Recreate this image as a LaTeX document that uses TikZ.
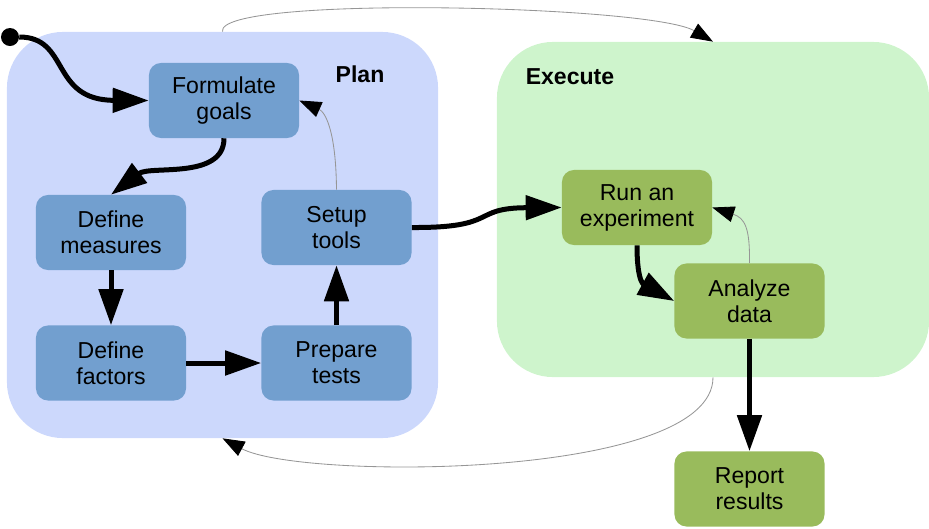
\documentclass[tikz,border=0pt]{standalone}
\usepackage{fontspec}
\setmainfont{Liberation Sans}
\usetikzlibrary{arrows.meta}
\definecolor{planbg}{RGB}{204,216,252}
\definecolor{execbg}{RGB}{206,244,204}
\definecolor{bluebox}{RGB}{114,159,207}
\definecolor{greenbox}{RGB}{153,187,92}
\definecolor{thinline}{RGB}{150,150,150}
\begin{document}
\begin{tikzpicture}[x=0.025cm,y=-0.025cm,
    font=\fontsize{16.4pt}{18.5pt}\selectfont,
    region/.style={rounded corners=1.4cm,minimum width=10.8cm,inner sep=0},
    box/.style={fill=bluebox,rounded corners=0.3cm,minimum width=3.75cm,minimum height=1.875cm,inner sep=0,align=center},
    gbox/.style={box,fill=greenbox},
    bold/.style={line width=0.125cm,-{Triangle[length=0.9cm,width=0.6cm]}},
    thin/.style={draw=thinline,line width=0.6pt,-{Triangle[length=0.55cm,width=0.4cm,color=black]}}]

    \useasboundingbox (0,0) rectangle (929,528);

    \node[region,fill=planbg,minimum width=10.775cm,minimum height=10.15cm] (9) at (222.5,235) {};
    \node[region,fill=execbg,minimum height=8.375cm] (10) at (713,209.5) {};
    \node[font=\fontsize{16.4pt}{18.5pt}\selectfont\bfseries] (11) at (360,74) {Plan};
    \node[font=\fontsize{16.4pt}{18.5pt}\selectfont\bfseries] (12) at (570,77) {Execute};

    \node[circle,fill=black,minimum size=0.45cm,inner sep=0] (0) at (10,37) {};
    \node[box] (1) at (224,100.5) {Formulate\\goals};
    \node[box] (2) at (111,232.5) {Define\\measures};
    \node[box] (3) at (111,363) {Define\\factors};
    \node[box] (4) at (336.5,363) {Prepare\\tests};
    \node[box] (5) at (336.5,227.5) {Setup\\tools};
    \node[gbox] (6) at (637,207.5) {Run an\\experiment};
    \node[gbox] (7) at (749.5,301) {Analyze\\data};
    \node[gbox] (8) at (749.5,489) {Report\\results};

\draw[bold] (0) .. controls (70,37) and (50,100) .. (1.west);
\draw[bold] (1.south) .. controls (224,180) and (150,165) .. (2.north);
\draw[bold] (2) -- (3);
\draw[bold] (3) -- (4);
\draw[bold] (4) -- (5);
\draw[thin] (5.north) .. controls (336,130) and (325,112) .. (1.east);
\draw[bold] (5.east) .. controls (500,228) and (470,208) .. (6.west);
\draw[bold] (6.south) .. controls (637,285) and (645,285) .. (7.west);
\draw[thin] (7.north) .. controls (750,228) and (745,218) .. (6.east);
\draw[bold] (7) -- (8);
\draw[thin] (9.north) .. controls (215,-5) and (650,5) .. (10.north);
\draw[thin] (10.south) .. controls (713,480) and (300,480) .. (9.south);
\end{tikzpicture}
\end{document}
